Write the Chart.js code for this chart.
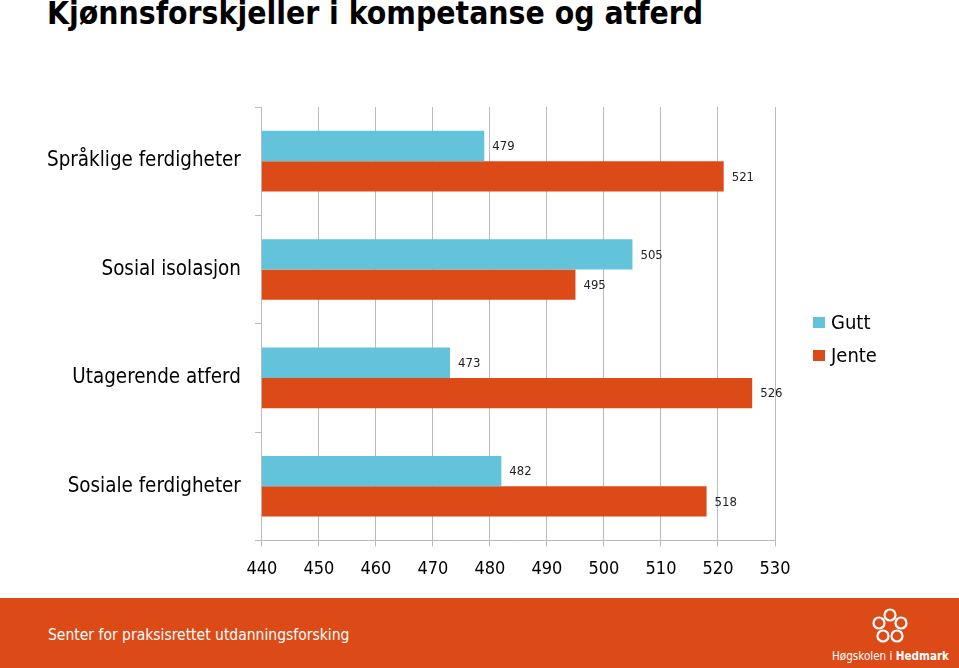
<!DOCTYPE html>
<html>
<head>
<meta charset="utf-8">
<script src="https://cdn.jsdelivr.net/npm/chart.js@4"></script>
<style>
  html, body { margin: 0; padding: 0; background: #fff; }
  body { width: 959px; height: 668px; position: relative; overflow: hidden; font-family: "DejaVu Sans Condensed", "DejaVu Sans", sans-serif; }
  #title { position: absolute; left: 47px; top: -5px; font-size: 31.6px; font-weight: bold; color: #000; white-space: nowrap; }
  #wrap { position: absolute; left: 0; top: 80px; width: 959px; height: 514px; }
  #legend { position: absolute; left: 813px; top: 309px; font-size: 20px; color: #000; }
  #legend div { height: 33px; line-height: 26px; white-space: nowrap; }
  #legend span { display: inline-block; width: 12px; height: 11px; margin-right: 6px; vertical-align: 1px; }
  #footer { position: absolute; left: 0; top: 598px; width: 959px; height: 70px; background: #dc4a17; color: #fff; }
  #footer .senter { position: absolute; left: 48px; top: 28px; font-size: 15.5px; }
  #footer .logo { position: absolute; left: 832px; top: 51px; font-size: 11.6px; }
  #footer svg { position: absolute; left: 871px; top: 9px; }
</style>
</head>
<body>
<div id="title">Kjønnsforskjeller i kompetanse og atferd</div>
<div id="wrap"><canvas id="myChart"></canvas></div>
<div id="legend"></div>
<div id="footer">
  <span class="senter">Senter for praksisrettet utdanningsforsking</span>
  <svg width="38" height="38" viewBox="0 0 38 38" fill="none" stroke="#fff" stroke-width="2.2">
    <circle cx="19" cy="8" r="5.5"/>
    <circle cx="30" cy="16" r="5.5"/>
    <circle cx="26" cy="29" r="5.5"/>
    <circle cx="12" cy="29" r="5.5"/>
    <circle cx="8" cy="16" r="5.5"/>
  </svg>
  <span class="logo">Høgskolen i <b>Hedmark</b></span>
</div>
<script>
// kategorier og verdier lest fra figuren
const categories = ["Språklige ferdigheter", "Sosial isolasjon", "Utagerende atferd", "Sosiale ferdigheter"];
const gutt = [479, 505, 473, 482];
const jente = [521, 495, 526, 518];
const xTicks = [440, 450, 460, 470, 480, 490, 500, 510, 520, 530];

const font = "'DejaVu Sans Condensed', 'DejaVu Sans', sans-serif";

// tall til hoyre for hver stolpe
const valueLabels = {
  id: "valueLabels",
  afterDatasetsDraw(chart) {
    const ctx = chart.ctx;
    ctx.save();
    ctx.font = "13px " + font;
    ctx.fillStyle = "#222";
    ctx.textBaseline = "middle";
    ctx.textAlign = "left";
    chart.data.datasets.forEach((ds, i) => {
      chart.getDatasetMeta(i).data.forEach((bar, j) => {
        ctx.fillText(ds.data[j], bar.x + 8, bar.y + 1);
      });
    });
    ctx.restore();
  }
};

// legende som html, bygget fra datasettene
const htmlLegend = {
  id: "htmlLegend",
  afterUpdate(chart) {
    const box = document.getElementById("legend");
    box.innerHTML = "";
    chart.data.datasets.forEach(ds => {
      const row = document.createElement("div");
      const sw = document.createElement("span");
      sw.style.background = ds.backgroundColor;
      row.appendChild(sw);
      row.appendChild(document.createTextNode(ds.label));
      box.appendChild(row);
    });
  }
};

new Chart("myChart", {
  type: "bar",
  data: {
    labels: categories,
    datasets: [
      { label: "Gutt", data: gutt, backgroundColor: "#63c3da", categoryPercentage: 0.56, barPercentage: 1 },
      { label: "Jente", data: jente, backgroundColor: "#dc4a17", categoryPercentage: 0.56, barPercentage: 1 }
    ]
  },
  options: {
    indexAxis: "y",
    responsive: true,
    maintainAspectRatio: false,
    animation: false,
    layout: { padding: { left: 33, right: 184, top: 27, bottom: 2 } },
    plugins: {
      legend: { display: false },
      tooltip: { enabled: false }
    },
    scales: {
      x: {
        min: 440,
        max: 530,
        afterBuildTicks(axis) { axis.ticks = xTicks.map(v => ({ value: v })); },
        grid: { color: "#bbb", tickLength: 6 },
        border: { color: "#bbb" },
        ticks: { font: { family: font, size: 18 }, color: "#000", padding: 12 }
      },
      y: {
        grid: { drawOnChartArea: false, color: "#bbb", tickLength: 7, offset: true },
        border: { color: "#bbb" },
        ticks: { font: { family: font, size: 20.4 }, color: "#000", padding: 14 }
      }
    }
  },
  plugins: [valueLabels, htmlLegend]
});
</script>
</body>
</html>
